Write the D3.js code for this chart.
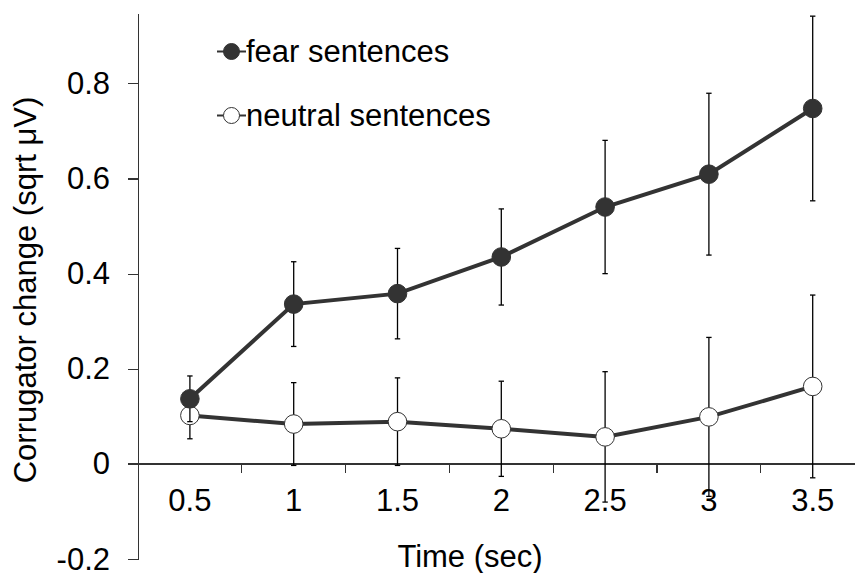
<!DOCTYPE html>
<html lang="en">
<head>
    <meta charset="UTF-8">
    <title>Corrugator change over time</title>
    <script src="https://d3js.org/d3.v7.min.js"></script>
    <style>
        body { margin: 0; background: #fff; }
        svg { display: block; }
        svg text { font-family: Arial, "Liberation Sans", sans-serif; font-size: 31px; fill: #000; }
        .axis path, .axis line { stroke: #333; stroke-width: 1.2; shape-rendering: crispEdges; }
    </style>
</head>
<body>
    <div id="chart"></div>
    <script>
        // Data
        const times = ['0.5', '1', '1.5', '2', '2.5', '3', '3.5'];
        const fearMean = [0.137, 0.336, 0.358, 0.435, 0.540, 0.609, 0.747];
        const fearErr = [0.048, 0.089, 0.095, 0.101, 0.140, 0.170, 0.194];
        const neutralMean = [0.102, 0.084, 0.089, 0.074, 0.057, 0.099, 0.163];
        const neutralErr = [0.049, 0.087, 0.092, 0.100, 0.137, 0.167, 0.192];
        const yTicks = [-0.2, 0, 0.2, 0.4, 0.6, 0.8];

        const width = 855, height = 573;

        const svg = d3.select('#chart').append('svg')
            .attr('width', width)
            .attr('height', height);

        const x = d3.scaleBand()
            .domain(times)
            .range([138, 864.6])
            .padding(0);

        const y = d3.scaleLinear()
            .domain([-0.2, 0.947])
            .range([559.2, 13.3]);

        const cx = d => x(d) + x.bandwidth() / 2;

        // Y axis
        svg.append('g')
            .attr('class', 'axis')
            .attr('transform', 'translate(138,0)')
            .call(d3.axisLeft(y).tickValues(yTicks).tickSize(10).tickSizeOuter(0).tickPadding(18)
                .tickFormat(d => d === 0 ? '0' : d3.format('.1f')(d).replace('−', '-')));

        // X axis (line at y = 0, labels centred, ticks at category boundaries)
        const xAxis = svg.append('g')
            .attr('class', 'axis')
            .attr('transform', `translate(0,${y(0)})`);
        xAxis.call(d3.axisBottom(x).tickSize(0).tickPadding(25).tickSizeOuter(0));
        xAxis.select('.domain').attr('d', `M128,0H${width}`);
        xAxis.selectAll('.bound')
            .data(times.slice(1))
            .enter()
            .append('line')
            .attr('class', 'bound')
            .attr('x1', d => x(d))
            .attr('x2', d => x(d))
            .attr('y1', 0)
            .attr('y2', 9);

        // Axis titles
        svg.append('text')
            .attr('transform', 'translate(36,290) rotate(-90)')
            .attr('text-anchor', 'middle')
            .text('Corrugator change (sqrt μV)');

        svg.append('text')
            .attr('x', 470)
            .attr('y', 567)
            .attr('text-anchor', 'middle')
            .text('Time (sec)');

        const series = [
            { name: 'neutral sentences', mean: neutralMean, err: neutralErr, fill: '#fff' },
            { name: 'fear sentences', mean: fearMean, err: fearErr, fill: '#333' }
        ];

        const line = d3.line()
            .x(d => cx(d.t))
            .y(d => y(d.v));

        series.forEach(s => {
            const pts = times.map((t, i) => ({ t: t, v: s.mean[i], e: s.err[i] }));
            const g = svg.append('g');

            // error bars
            const eb = g.selectAll('.err')
                .data(pts)
                .enter()
                .append('g')
                .attr('stroke', '#000')
                .attr('stroke-width', 1.3);
            eb.append('line')
                .attr('x1', d => cx(d.t)).attr('x2', d => cx(d.t))
                .attr('y1', d => y(d.v - d.e)).attr('y2', d => y(d.v + d.e));
            eb.append('line')
                .attr('x1', d => cx(d.t) - 2.7).attr('x2', d => cx(d.t) + 2.7)
                .attr('y1', d => y(d.v + d.e)).attr('y2', d => y(d.v + d.e));
            eb.append('line')
                .attr('x1', d => cx(d.t) - 2.7).attr('x2', d => cx(d.t) + 2.7)
                .attr('y1', d => y(d.v - d.e)).attr('y2', d => y(d.v - d.e));

            g.append('path')
                .datum(pts)
                .attr('d', line)
                .attr('fill', 'none')
                .attr('stroke', '#333')
                .attr('stroke-width', 4);

            g.selectAll('circle')
                .data(pts)
                .enter()
                .append('circle')
                .attr('cx', d => cx(d.t))
                .attr('cy', d => y(d.v))
                .attr('r', 9.3)
                .attr('fill', s.fill)
                .attr('stroke', '#333')
                .attr('stroke-width', 1);
        });

        // Legend
        const legend = svg.append('g');
        const legendItems = [
            { name: 'fear sentences', fill: '#333', y: 51.5 },
            { name: 'neutral sentences', fill: '#fff', y: 115.5 }
        ];
        legendItems.forEach(d => {
            legend.append('line')
                .attr('x1', 217).attr('x2', 246)
                .attr('y1', d.y).attr('y2', d.y)
                .attr('stroke', '#333')
                .attr('stroke-width', 2);
            legend.append('circle')
                .attr('cx', 231.5).attr('cy', d.y)
                .attr('r', 8)
                .attr('fill', d.fill)
                .attr('stroke', '#333')
                .attr('stroke-width', 1);
            legend.append('text')
                .attr('x', 246)
                .attr('y', d.y + 10)
                .text(d.name);
        });
    </script>
</body>
</html>
